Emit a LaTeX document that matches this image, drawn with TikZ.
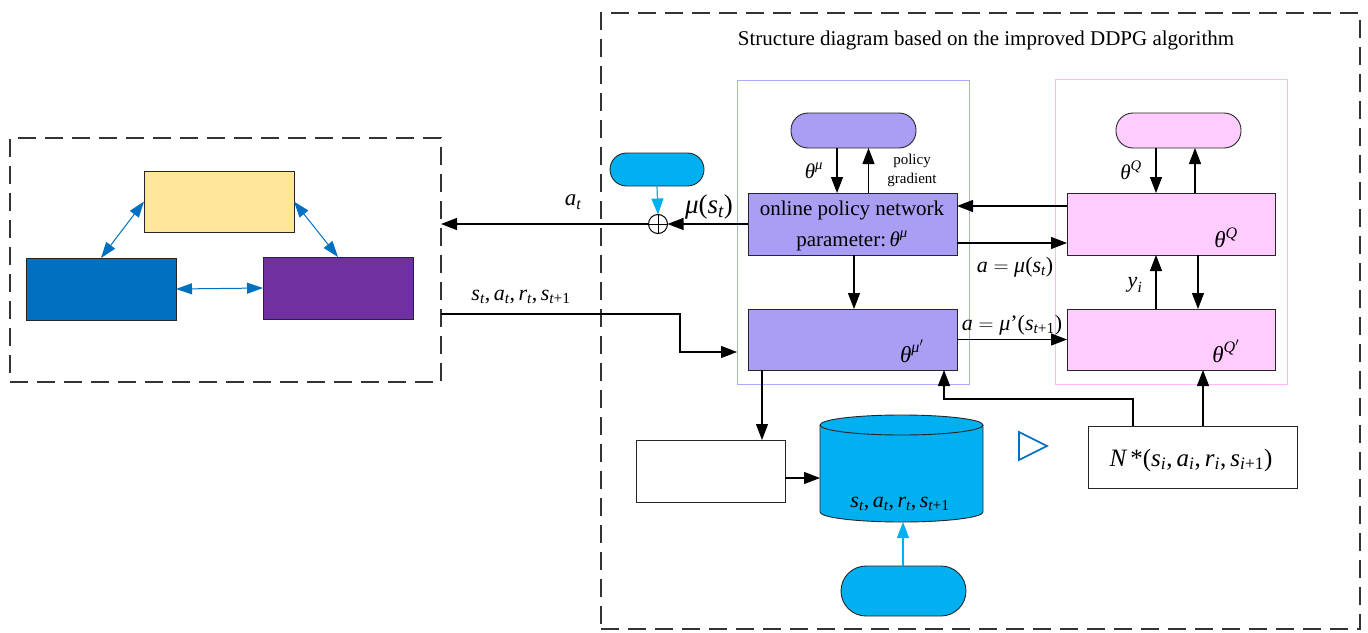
\documentclass[tikz,border=0pt]{standalone}
\usepackage{amsmath}
\usepackage{fontspec}
\setmainfont{Liberation Serif}
\usetikzlibrary{arrows.meta}

\definecolor{cyellow}{RGB}{255,230,153}
\definecolor{cblue}{RGB}{0,112,192}
\definecolor{cpurple}{RGB}{112,48,160}
\definecolor{ccyan}{RGB}{0,176,240}
\definecolor{actorfill}{RGB}{170,157,244}
\definecolor{actorline}{RGB}{170,170,255}
\definecolor{criticfill}{RGB}{255,204,255}
\definecolor{criticline}{RGB}{255,180,255}

\newcommand{\vi}[1]{\textit{#1}}
\newcommand{\Lpar}{\textup{(}}
\newcommand{\Rpar}{\textup{)}}

\tikzset{
  box/.style={draw=black!85, line width=0.9pt, inner sep=0pt, outer sep=0pt},
  pill/.style={box, rounded corners=#1},
  framebox/.style={draw=black!80, line width=1.2pt, dash pattern=on 18pt off 9pt,
                   inner sep=0pt, outer sep=0pt},
  areabox/.style={line width=1pt, inner sep=0pt, outer sep=0pt},
  arr/.style={line width=1.2pt, -{Triangle[length=16pt,width=12pt]}},
  carr/.style={line width=1.2pt, draw=ccyan, -{Triangle[length=16pt,width=12pt]}},
  barr/.style={line width=1pt, draw=cblue,
               {Triangle[length=16pt,width=11pt]}-{Triangle[length=16pt,width=11pt]}},
  lbl/.style={inner sep=0pt, outer sep=0pt},
}

\begin{document}
\begin{tikzpicture}[x=1pt, y=-1pt, font=\fontsize{21}{25}\selectfont]
\useasboundingbox (0,0) rectangle (1368,632);

% ---- environment frame ----
\node[framebox, minimum width=431pt, minimum height=244pt] (env) at (225.5,260) {};
\node[box, fill=cyellow, minimum width=150pt, minimum height=61pt] (yel) at (219,201.5) {};
\node[box, fill=cblue, minimum width=150pt, minimum height=62pt] (blu) at (101,289) {};
\node[box, fill=cpurple, minimum width=150pt, minimum height=62pt] (pur) at (338,288) {};
\draw[barr] (yel.west) -- (blu.north);
\draw[barr] (yel.east) -- (pur.north);
\draw[barr] (blu.east) -- (pur.west);

% ---- DDPG frame ----
\node[framebox, minimum width=759pt, minimum height=616pt] (ddpg) at (980.5,321) {};
\node[lbl] (title) at (986,40) {Structure diagram based on the improved DDPG algorithm};

% actor area
\node[areabox, draw=actorline, minimum width=232pt, minimum height=304pt] (parea) at (853,232) {};
\node[pill=17pt, fill=actorfill, minimum width=125pt, minimum height=35pt] (apill) at (853.5,130.5) {};
\node[box, fill=actorfill, minimum width=209pt, minimum height=62pt] (actor) at (852.5,224) {};
\node[box, fill=actorfill, minimum width=209pt, minimum height=61pt] (tactor) at (852.5,339.5) {};
\node[lbl] (actortxt1) at (852,210) {online policy network};
\node[lbl] (actortxt2) at (852,241) {parameter:$\,\vi{θ}^{\vi{μ}}$};
\node[lbl, font=\fontsize{23}{27}\selectfont] (tactortxt) at (912,351) {$\vi{θ}^{\vi{μ}'}$};

% critic area
\node[areabox, draw=criticline, minimum width=232pt, minimum height=305pt] (carea) at (1171,231.5) {};
\node[pill=17pt, fill=criticfill, minimum width=125pt, minimum height=35pt] (cpill) at (1178.5,130.5) {};
\node[box, fill=criticfill, minimum width=208pt, minimum height=62pt] (critic) at (1171,224) {};
\node[box, fill=criticfill, minimum width=208pt, minimum height=61pt] (tcritic) at (1171,339.5) {};
\node[lbl, font=\fontsize{23}{27}\selectfont] (critictxt) at (1226,238) {$\vi{θ}^{\vi{Q}}$};
\node[lbl, font=\fontsize{23}{27}\selectfont] (tcritictxt) at (1226,351) {$\vi{θ}^{\vi{Q}'}$};

% actor internal links
\draw[arr] ([xshift=-16.5pt]apill.south) -- ([xshift=-16.5pt]apill.south |- actor.north);
\draw[arr] ([xshift=16pt]actor.north) -- ([xshift=16pt]actor.north |- apill.south);
\node[lbl] (lthmu) at (814,171) {$\vi{θ}^{\vi{μ}}$};
\node[lbl, align=center, font=\fontsize{15}{19}\selectfont] (lgrad) at (912,170) {policy\\gradient};
\draw[arr] ([xshift=1.5pt]actor.south) -- ([xshift=1.5pt]tactor.north);

% critic internal links
\draw[arr] ([xshift=-22.5pt]cpill.south) -- ([xshift=-22.5pt]cpill.south |- critic.north);
\draw[arr] ([xshift=24pt]critic.north) -- ([xshift=24pt]critic.north |- cpill.south);
\node[lbl] (lthq) at (1131,170) {$\vi{θ}^{\vi{Q}}$};
\draw[arr] ([xshift=-15pt]tcritic.north) -- ([xshift=-15pt]critic.south);
\draw[arr] ([xshift=27pt]critic.south) -- ([xshift=27pt]tcritic.north);
\node[lbl, font=\fontsize{22}{26}\selectfont] (lyi) at (1135,285) {$\vi{y}_{\vi{i}}$};

% actor <-> critic
\draw[arr] ([yshift=18pt]critic.west) -- ([yshift=18pt]critic.west -| actor.east);
\draw[arr] ([yshift=-19pt]actor.east) -- ([yshift=-19pt]actor.east -| critic.west);
\node[lbl, font=\fontsize{22}{26}\selectfont] (lamu) at (1015,267) {$\vi{a}=\vi{μ}\Lpar \vi{s}_{\vi{t}}\Rpar$};
\draw[arr] (tactor.east) -- (tactor.east -| tcritic.west);
\node[lbl, font=\fontsize{22}{26}\selectfont] (lamup) at (1012,325) {$\vi{a}=\vi{μ}\textup{'}\Lpar \vi{s}_{\vi{t}\textup{+1}}\Rpar$};

% exploration noise and action output
\node[pill=16.5pt, fill=ccyan, minimum width=94pt, minimum height=33pt] (noise) at (657,169.5) {};
\node[circle, draw=black, line width=1pt, minimum size=19pt, inner sep=0pt, outer sep=0pt, fill=white] (sum) at (658,224) {};
\draw[line width=1pt] (sum.north) -- (sum.south) (sum.west) -- (sum.east);
\draw[carr] (noise.south) -- (sum.north);
\draw[arr] (actor.west) -- (sum.east);
\draw[arr] (sum.west) -- (sum.west -| env.east);
\node[lbl, font=\fontsize{23}{27}\selectfont] (lat) at (573,202) {$\vi{a}_{\vi{t}}$};
\node[lbl, font=\fontsize{27}{31}\selectfont] (lmust) at (709,207) {$\vi{μ}\Lpar \vi{s}_{\vi{t}}\Rpar$};

% transition feedback to the target actor
\coordinate (k1) at (680,352);
\draw[arr] ([yshift=-54pt]env.east) -| (k1) -- (k1 -| parea.west);
\node[lbl, font=\fontsize{22}{26}\selectfont] (lsars) at (521,297) {$\vi{s}_{\vi{t}}\textup{,}\,\vi{a}_{\vi{t}}\textup{,}\,\vi{r}_{\vi{t}}\textup{,}\,\vi{s}_{\vi{t}\textup{+1}}$};

% replay buffer
\node[box, fill=white, minimum width=149pt, minimum height=62pt] (wbox) at (710.5,471) {};
\fill[ccyan] (820pt,-425pt) -- (820pt,-512pt) arc[start angle=180, end angle=360, x radius=81.5pt, y radius=10pt] -- (983pt,-425pt) -- cycle;
\draw[line width=0.9pt, draw=black!85] (820pt,-425pt) -- (820pt,-512pt) arc[start angle=180, end angle=360, x radius=81.5pt, y radius=10pt] -- (983pt,-425pt);
\draw[line width=0.9pt, draw=black!85, fill=ccyan] (901.5,425) ellipse [x radius=81.5pt, y radius=10pt];
\node[inner sep=0pt, outer sep=0pt, minimum width=163pt, minimum height=107pt] (db) at (901.5,468.5) {};
\node[lbl, font=\fontsize{22}{26}\selectfont] (dbtxt) at (900,504) {$\vi{s}_{\vi{t}}\textup{,}\,\vi{a}_{\vi{t}}\textup{,}\,\vi{r}_{\vi{t}}\textup{,}\,\vi{s}_{\vi{t}\textup{+1}}$};
\draw[arr] ([xshift=-90.5pt]tactor.south) -- ([xshift=-90.5pt]tactor.south |- wbox.north);
\draw[arr] ([yshift=-7pt]wbox.east) -- ([yshift=-7pt]wbox.east -| db.west);
\node[pill=25pt, fill=ccyan, minimum width=125pt, minimum height=50pt] (bpill) at (903.5,591) {};
\draw[carr] ([xshift=-0.5pt]bpill.north) -- ([xshift=-0.5pt]bpill.north |- db.south);

% minibatch sampling
\node[box, fill=white, minimum width=209pt, minimum height=62pt] (nbox) at (1192.5,457) {};
\node[lbl, font=\fontsize{25}{29}\selectfont] (ntxt) at (1191,460) {$\vi{N}\,\textup{*}\Lpar \vi{s}_{\vi{i}}\textup{,}\,\vi{a}_{\vi{i}}\textup{,}\,\vi{r}_{\vi{i}}\textup{,}\,\vi{s}_{\vi{i}\textup{+1}}\Rpar$};
\coordinate (k2) at (944,399);
\draw[arr] ([xshift=-59.5pt]nbox.north) |- (k2) -- (k2 |- tactor.south);
\draw[arr] ([xshift=10.5pt]nbox.north) -- ([xshift=10.5pt]nbox.north |- tcritic.south);

% blue marker
\draw[cblue, line width=1.6pt, line join=miter] (1019,432) -- (1047,446) -- (1019,460) -- cycle;
\end{tikzpicture}
\end{document}
